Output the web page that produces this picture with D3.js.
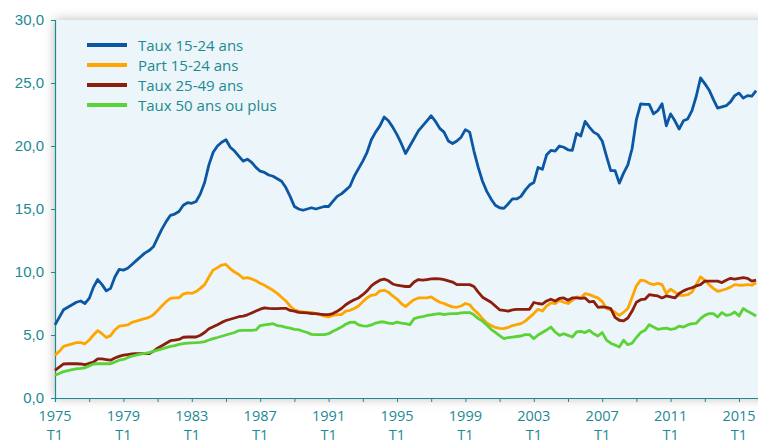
<!DOCTYPE html>
<html>
<head>
<meta charset="utf-8">
<script src="https://cdn.jsdelivr.net/npm/d3@7"></script>
<style>
  body { margin: 0; background: #fff; }
  svg { display: block; font-family: "Open Sans", sans-serif; }
</style>
</head>
<body>
<svg id="chart"></svg>
<script>
// Chart size
const width = 758;
const height = 443;

// Data, quarterly from 1975 T1
const startYear = 1975;
const yTicks = [0, 5, 10, 15, 20, 25, 30];
const xLabelYears = [1975, 1979, 1983, 1987, 1991, 1995, 1999, 2003, 2007, 2011, 2015];

const seriesNames = ["Taux 15-24 ans", "Part 15-24 ans", "Taux 25-49 ans", "Taux 50 ans ou plus"];
const seriesColors = ["#0b57a4", "#ffa500", "#8b1e0c", "#5bd236"];

const taux1524 = [
  5.8, 6.4, 7.0, 7.2, 7.4, 7.6, 7.7, 7.5, 7.9, 8.8, 9.4, 9.0, 8.5, 8.7, 9.6, 10.2,
  10.15, 10.3, 10.6, 10.9, 11.2, 11.5, 11.7, 12.0, 12.7, 13.4, 14.0, 14.5, 14.6, 14.8, 15.3, 15.5,
  15.45, 15.6, 16.2, 17.1, 18.5, 19.5, 20.0, 20.3, 20.5, 19.9, 19.6, 19.2, 18.8, 18.95, 18.7, 18.3,
  18.0, 17.9, 17.7, 17.6, 17.4, 17.2, 16.7, 16.0, 15.2, 15.0, 14.9, 15.0, 15.1, 15.0, 15.1, 15.2,
  15.2, 15.6, 16.0, 16.2, 16.5, 16.8, 17.6, 18.2, 18.8, 19.5, 20.5, 21.1, 21.6, 22.3, 22.0, 21.5,
  20.9, 20.2, 19.4, 20.0, 20.6, 21.2, 21.6, 22.0, 22.4, 21.95, 21.4, 21.1, 20.4, 20.2, 20.4, 20.7,
  21.3, 21.1, 19.6, 18.3, 17.2, 16.4, 15.8, 15.3, 15.1, 15.05, 15.4, 15.8, 15.8, 16.0, 16.5, 16.9,
  17.1, 18.3, 18.15, 19.3, 19.65, 19.6, 20.0, 19.9, 19.7, 19.65, 21.0, 20.8, 21.95, 21.5, 21.1, 20.9,
  20.4, 19.2, 18.05, 18.05, 17.05, 17.85, 18.5, 19.8, 22.1, 23.35, 23.3, 23.3, 22.55, 22.8, 23.35, 21.6,
  22.55, 22.0, 21.35, 22.0, 22.15, 22.8, 23.95, 25.4, 24.95, 24.45, 23.7, 23.0, 23.1, 23.2, 23.5, 24.0,
  24.2, 23.8, 24.0, 23.95, 24.4
];

const part1524 = [
  3.4, 3.7, 4.1, 4.2, 4.3, 4.4, 4.4, 4.3, 4.6, 5.0, 5.35, 5.1, 4.8, 4.95, 5.4, 5.7,
  5.75, 5.8, 6.0, 6.1, 6.2, 6.3, 6.4, 6.6, 6.95, 7.3, 7.65, 7.9, 7.95, 7.95, 8.25, 8.35,
  8.3, 8.45, 8.7, 9.0, 9.6, 10.15, 10.35, 10.55, 10.6, 10.25, 10.0, 9.8, 9.5, 9.55, 9.45, 9.3,
  9.1, 8.95, 8.75, 8.55, 8.3, 8.0, 7.7, 7.3, 7.0, 6.9, 6.83, 6.8, 6.8, 6.7, 6.62, 6.5,
  6.43, 6.55, 6.62, 6.62, 6.9, 6.96, 7.1, 7.3, 7.65, 7.95, 8.15, 8.2, 8.5, 8.55, 8.4, 8.1,
  7.85, 7.5, 7.25, 7.55, 7.8, 7.94, 7.94, 7.95, 8.02, 7.8, 7.6, 7.5, 7.35, 7.23, 7.2, 7.3,
  7.5, 7.4, 7.0, 6.7, 6.3, 5.95, 5.75, 5.6, 5.52, 5.5, 5.6, 5.75, 5.82, 5.9, 6.1, 6.4,
  6.7, 7.04, 6.9, 7.3, 7.55, 7.5, 7.75, 7.6, 7.5, 7.75, 8.02, 7.94, 8.29, 8.2, 8.07, 7.95,
  7.65, 7.1, 7.0, 6.8, 6.56, 6.8, 7.1, 8.0, 8.9, 9.35, 9.3, 9.1, 9.0, 9.1, 9.0, 8.29,
  8.63, 8.4, 8.15, 8.15, 8.2, 8.4, 9.0, 9.61, 9.35, 9.0, 8.7, 8.47, 8.55, 8.65, 8.8, 9.0,
  8.95, 8.95, 9.0, 8.95, 9.15
];

const taux2549 = [
  2.2, 2.45, 2.7, 2.72, 2.72, 2.72, 2.7, 2.64, 2.75, 2.85, 3.1, 3.1, 3.05, 3.0, 3.17, 3.3,
  3.4, 3.45, 3.5, 3.52, 3.52, 3.52, 3.52, 3.7, 3.95, 4.15, 4.35, 4.55, 4.6, 4.65, 4.82, 4.84,
  4.84, 4.84, 4.98, 5.2, 5.5, 5.65, 5.82, 6.0, 6.15, 6.25, 6.35, 6.45, 6.5, 6.6, 6.75, 6.9,
  7.05, 7.15, 7.12, 7.1, 7.1, 7.12, 7.12, 6.95, 6.9, 6.8, 6.78, 6.75, 6.7, 6.7, 6.65, 6.62,
  6.62, 6.7, 6.88, 7.1, 7.4, 7.62, 7.8, 7.94, 8.2, 8.5, 8.9, 9.15, 9.35, 9.44, 9.3, 9.05,
  8.95, 8.9, 8.85, 8.85, 9.2, 9.4, 9.35, 9.4, 9.45, 9.47, 9.45, 9.4, 9.3, 9.2, 9.0, 9.0,
  9.0, 9.0, 8.85, 8.4, 8.0, 7.8, 7.6, 7.3, 7.0, 6.95, 6.9, 7.0, 7.04, 7.04, 7.04, 7.04,
  7.58, 7.5, 7.45, 7.7, 7.84, 7.7, 7.9, 7.94, 7.76, 7.94, 7.94, 7.9, 7.94, 7.62, 7.67, 7.2,
  7.23, 7.2, 7.1, 6.4, 6.17, 6.12, 6.35, 6.9, 7.6, 7.8, 7.84, 8.2, 8.15, 8.1, 7.94, 8.1,
  8.02, 7.94, 8.29, 8.5, 8.65, 8.75, 8.9, 9.0, 9.27, 9.27, 9.27, 9.27, 9.16, 9.35, 9.5, 9.44,
  9.5, 9.55, 9.5, 9.27, 9.35
];

const taux50plus = [
  1.8, 1.95, 2.1, 2.18, 2.25, 2.32, 2.35, 2.4, 2.55, 2.7, 2.72, 2.72, 2.72, 2.72, 2.85, 3.0,
  3.06, 3.2, 3.33, 3.4, 3.48, 3.55, 3.6, 3.7, 3.8, 3.9, 4.0, 4.1, 4.15, 4.25, 4.31, 4.35,
  4.37, 4.39, 4.42, 4.47, 4.6, 4.71, 4.8, 4.9, 5.0, 5.1, 5.2, 5.35, 5.37, 5.37, 5.37, 5.4,
  5.75, 5.8, 5.85, 5.9, 5.75, 5.7, 5.6, 5.55, 5.45, 5.42, 5.3, 5.2, 5.05, 5.03, 5.03, 5.03,
  5.1, 5.29, 5.45, 5.63, 5.85, 6.0, 6.03, 5.8, 5.72, 5.71, 5.8, 5.95, 6.03, 6.03, 5.95, 5.9,
  6.03, 5.95, 5.9, 5.82, 6.3, 6.4, 6.45, 6.55, 6.6, 6.65, 6.7, 6.62, 6.68, 6.7, 6.7, 6.75,
  6.78, 6.78, 6.6, 6.3, 6.1, 5.8, 5.45, 5.2, 4.95, 4.71, 4.8, 4.84, 4.88, 4.92, 5.03, 5.03,
  4.71, 5.0, 5.2, 5.4, 5.63, 5.24, 4.97, 5.1, 4.97, 4.84, 5.24, 5.29, 5.19, 5.37, 5.1, 4.92,
  5.19, 4.6, 4.35, 4.2, 4.05, 4.58, 4.23, 4.35, 4.8, 5.19, 5.37, 5.82, 5.63, 5.45, 5.5, 5.55,
  5.45, 5.5, 5.71, 5.63, 5.8, 5.9, 5.93, 6.3, 6.56, 6.7, 6.7, 6.43, 6.78, 6.56, 6.62, 6.83,
  6.51, 7.1, 6.88, 6.7, 6.51
];

const allSeries = [taux1524, part1524, taux2549, taux50plus];

// Layout
const margin = { top: 20, left: 55, bottom: 45 };
const plotBottom = height - margin.bottom;
const teal = "#1b8a93";

const svg = d3.select("#chart")
    .attr("width", width)
    .attr("height", height);

// Soft shadow around the plot panel
const defs = svg.append("defs");
const shadow = defs.append("filter")
    .attr("id", "panel-shadow")
    .attr("x", "-10%").attr("y", "-10%")
    .attr("width", "120%").attr("height", "120%");
shadow.append("feDropShadow")
    .attr("dx", 0).attr("dy", 0)
    .attr("stdDeviation", 6)
    .attr("flood-color", "#000")
    .attr("flood-opacity", 0.28);

// Scales (x is the quarter index)
const x = d3.scaleLinear()
    .domain([0, 167])
    .range([margin.left, margin.left + 167 * 4.275]);

const y = d3.scaleLinear()
    .domain([0, 30])
    .range([plotBottom, margin.top]);

// Panel background
svg.append("rect")
    .attr("x", margin.left)
    .attr("y", margin.top)
    .attr("width", x(167) - margin.left)
    .attr("height", plotBottom - margin.top)
    .style("fill", "#ecf5f9")
    .attr("filter", "url(#panel-shadow)");

// French number format
const fr = d3.formatLocale({ decimal: ",", thousands: " ", grouping: [3], currency: ["", " €"] });
const fmt = fr.format(".1f");

// Y axis
const yAxis = svg.append("g")
    .attr("transform", `translate(${margin.left},0)`)
    .call(d3.axisLeft(y).tickValues(yTicks).tickFormat(fmt).tickSize(4).tickPadding(7));
yAxis.select(".domain").attr("stroke", teal).attr("stroke-width", 1.2);
yAxis.selectAll(".tick line").attr("stroke", teal);
yAxis.selectAll(".tick text")
    .style("font-size", "15px")
    .style("fill", teal);

// X axis: ticks every two years, labels every four
const xTickQuarters = d3.range(0, 165, 8);
const xAxis = svg.append("g")
    .attr("transform", `translate(0,${plotBottom})`)
    .call(d3.axisBottom(x).tickValues(xTickQuarters).tickFormat("").tickSize(4));
xAxis.select(".domain").attr("stroke", teal).attr("stroke-width", 1.2);
xAxis.selectAll(".tick line").attr("stroke", teal);

// Year and quarter on two lines under each labelled tick
const xLabels = svg.append("g")
    .selectAll("g")
    .data(xLabelYears)
    .enter().append("g")
    .attr("transform", d => `translate(${x((d - startYear) * 4)},0)`)
    .style("text-anchor", "middle")
    .style("font-size", "14.5px")
    .style("fill", teal);
xLabels.append("text")
    .attr("y", plotBottom + 23)
    .text(d => d);
xLabels.append("text")
    .attr("y", plotBottom + 42)
    .text("T1");

// Lines
const line = d3.line()
    .x((d, i) => x(i))
    .y(d => y(d));

svg.append("g")
    .selectAll("path")
    .data(allSeries)
    .enter().append("path")
    .attr("d", line)
    .attr("fill", "none")
    .attr("stroke", (d, i) => seriesColors[i])
    .attr("stroke-width", 2.8)
    .attr("stroke-linejoin", "round");

// Legend
const legend = svg.append("g")
    .selectAll("g")
    .data(seriesNames)
    .enter().append("g")
    .attr("transform", (d, i) => `translate(87,${45 + i * 20})`);
legend.append("line")
    .attr("x1", 0).attr("x2", 40)
    .attr("stroke", (d, i) => seriesColors[i])
    .attr("stroke-width", 4);
legend.append("text")
    .attr("x", 51)
    .attr("y", 5.5)
    .text(d => d)
    .style("font-size", "15px")
    .style("fill", teal);
</script>
</body>
</html>
